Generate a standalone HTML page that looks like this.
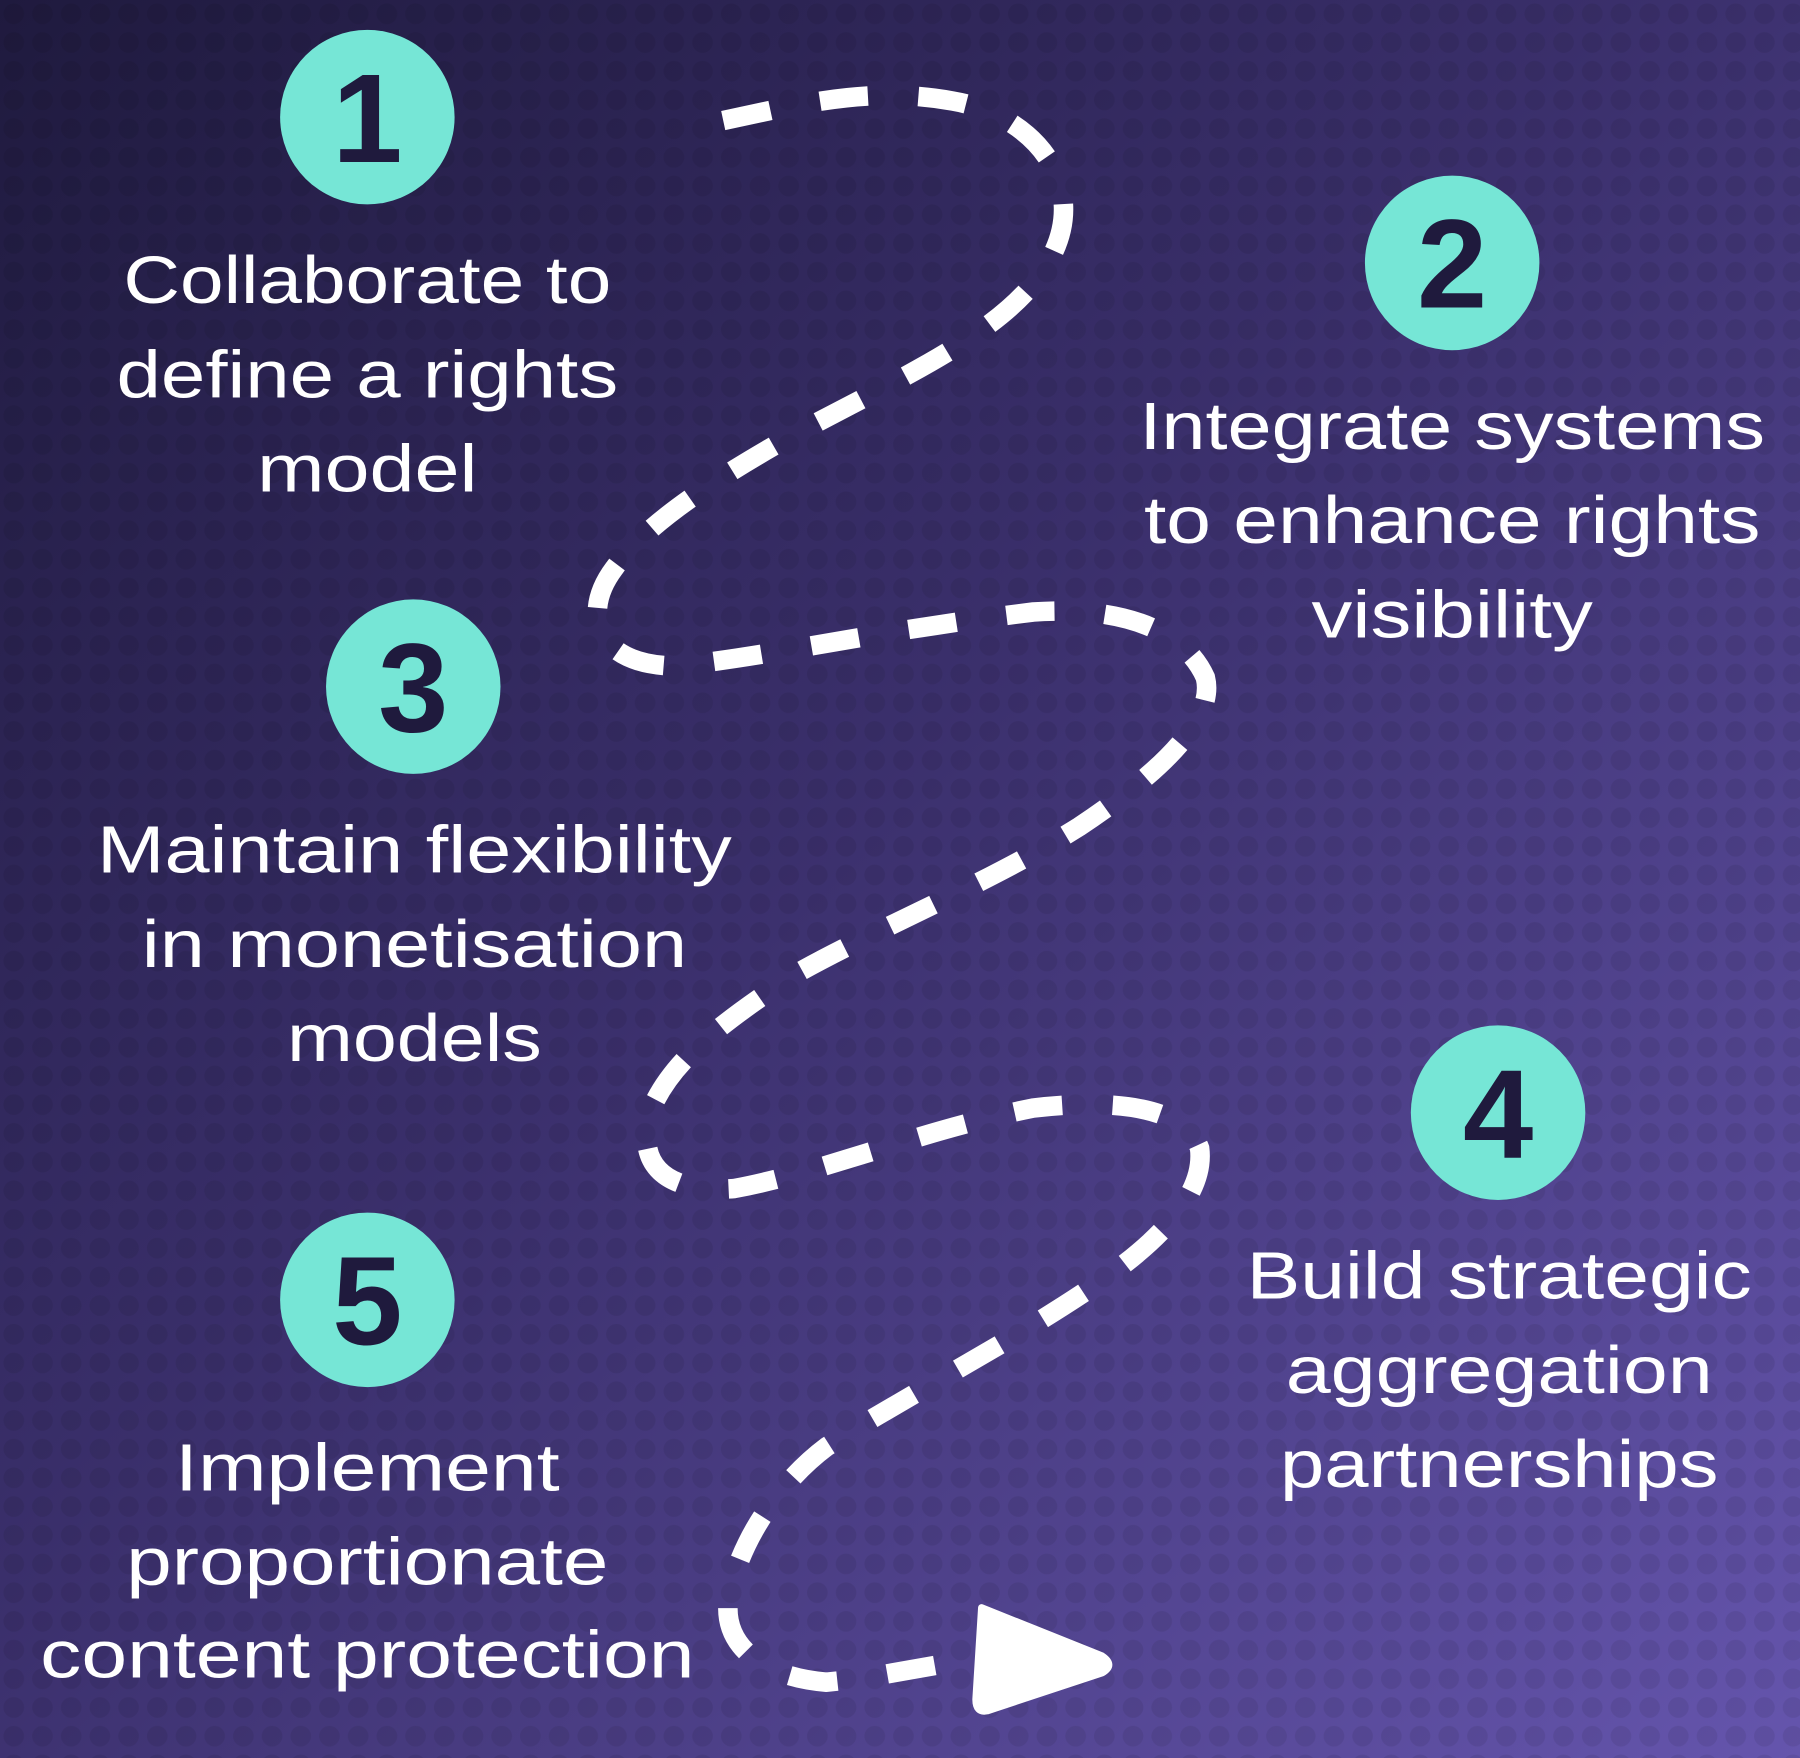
<!DOCTYPE html>
<html><head><meta charset="utf-8"><style>
html,body{margin:0;padding:0;width:1800px;height:1758px;overflow:hidden;background:#2a2250}
svg{display:block}
</style></head><body>
<svg width="1800" height="1758" viewBox="0 0 1568 1531" preserveAspectRatio="none" xmlns="http://www.w3.org/2000/svg">
<defs>
<linearGradient id="bg" x1="0" y1="0" x2="1" y2="1">
<stop offset="0" stop-color="#1f1a3e"/>
<stop offset="0.45" stop-color="#3a2f6b"/>
<stop offset="1" stop-color="#6555ad"/>
</linearGradient>
<pattern id="dots" width="25" height="25" patternUnits="userSpaceOnUse">
<circle cx="12" cy="12" r="9" fill="#000" opacity="0.12"/>
</pattern>
</defs>
<rect width="1568" height="1531" fill="url(#bg)"/>
<rect width="1568" height="1531" fill="url(#dots)" opacity="0.6"/>
<path d="M630,105 C700,90 760,75 830,88 C900,100 950,160 915,225 C880,290 780,330 680,385 C610,425 560,460 535,495 C505,535 520,580 590,580 C680,570 760,550 900,533 C970,528 1030,545 1050,590 C1060,630 1000,680 940,720 C860,770 760,810 690,850 C630,890 590,920 570,960 C550,1010 575,1040 640,1035 C720,1020 800,985 900,965 C960,958 1030,960 1045,1000 C1050,1040 1010,1080 960,1115 C880,1170 790,1215 720,1260 C680,1290 645,1340 635,1390 C628,1430 660,1460 720,1465 C770,1460 810,1450 850,1445" fill="none" stroke="#fff" stroke-width="17" stroke-dasharray="42 44" stroke-linecap="butt"/>
<path d="M855,1400 L960,1442 Q972,1450 960,1457 L860,1490 Q850,1492 850,1480 Z" fill="#fff" stroke="#fff" stroke-width="6" stroke-linejoin="round"/>
<g fill="#76e6d6">
<circle cx="320" cy="102" r="76"/>
<circle cx="1265" cy="229" r="76"/>
<circle cx="360" cy="598" r="76"/>
<circle cx="1305" cy="969" r="76"/>
<circle cx="320" cy="1132" r="76"/>
</g>
<g font-family="Liberation Sans, sans-serif" font-weight="bold" font-size="110" fill="#1f1a3d" text-anchor="middle">
<text x="320" y="141">1</text>
<text x="1265" y="268">2</text>
<text x="360" y="637">3</text>
<text x="1305" y="1008">4</text>
<text x="320" y="1171">5</text>
</g>
<g font-family="Liberation Sans, sans-serif" font-size="58" fill="#fff" text-anchor="middle" lengthAdjust="spacingAndGlyphs">
<text x="320" y="264" textLength="425" lengthAdjust="spacingAndGlyphs">Collaborate to</text>
<text x="320" y="346" textLength="437" lengthAdjust="spacingAndGlyphs">define a rights</text>
<text x="320" y="428" textLength="192" lengthAdjust="spacingAndGlyphs">model</text>
<text x="1265" y="391" textLength="545" lengthAdjust="spacingAndGlyphs">Integrate systems</text>
<text x="1265" y="473" textLength="537" lengthAdjust="spacingAndGlyphs">to enhance rights</text>
<text x="1265" y="555" textLength="245" lengthAdjust="spacingAndGlyphs">visibility</text>
<text x="361" y="760" textLength="553" lengthAdjust="spacingAndGlyphs">Maintain flexibility</text>
<text x="361" y="842" textLength="475" lengthAdjust="spacingAndGlyphs">in monetisation</text>
<text x="361" y="924" textLength="222" lengthAdjust="spacingAndGlyphs">models</text>
<text x="1306" y="1131" textLength="440" lengthAdjust="spacingAndGlyphs">Build strategic</text>
<text x="1306" y="1213" textLength="372" lengthAdjust="spacingAndGlyphs">aggregation</text>
<text x="1306" y="1295" textLength="382" lengthAdjust="spacingAndGlyphs">partnerships</text>
<text x="320" y="1298" textLength="335" lengthAdjust="spacingAndGlyphs">Implement</text>
<text x="320" y="1380" textLength="420" lengthAdjust="spacingAndGlyphs">proportionate</text>
<text x="320" y="1461" textLength="570" lengthAdjust="spacingAndGlyphs">content protection</text>
</g>
</svg>
</body></html>
